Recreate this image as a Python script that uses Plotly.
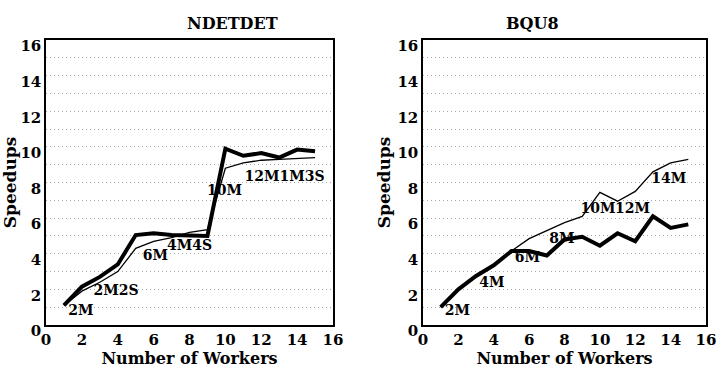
import plotly.graph_objects as go

workers = list(range(1, 16))

# NDETDET
nd_thick = [1.1, 2.15, 2.7, 3.4, 5.05, 5.15, 5.05, 5.05, 5.0, 9.9, 9.5, 9.65, 9.4, 9.85, 9.75]
nd_thin = [1.1, 1.9, 2.4, 3.0, 4.3, 4.7, 4.9, 5.2, 5.35, 8.8, 9.1, 9.25, 9.3, 9.35, 9.4]
nd_lab_text = ["2M", "2M2S", "6M", "4M4S", "10M", "12M1M3S"]
nd_lab_x = [1.95, 3.9, 6.1, 8.0, 9.95, 13.3]
nd_lab_y = [0.75, 1.9, 3.85, 4.4, 7.5, 8.3]

# BQU8
bq_thick = [1.0, 2.0, 2.75, 3.35, 4.15, 4.15, 3.9, 4.8, 4.95, 4.45, 5.15, 4.7, 6.1, 5.45, 5.65]
bq_thin = [1.0, 2.0, 2.75, 3.35, 4.15, 4.85, 5.3, 5.75, 6.1, 7.45, 6.95, 7.5, 8.6, 9.1, 9.3]
bq_lab_text = ["2M", "4M", "6M", "8M", "10M", "12M", "14M"]
bq_lab_x = [1.95, 3.9, 5.9, 7.85, 9.9, 11.85, 13.9]
bq_lab_y = [0.75, 2.35, 3.75, 4.8, 6.5, 6.5, 8.15]

titles = ["NDETDET", "BQU8"]
x_ticks = [0, 2, 4, 6, 8, 10, 12, 14, 16]
y_grid = list(range(0, 17))
y_ticktext = [str(v) if v % 2 == 0 else "" for v in y_grid]

FONT = "DejaVu Serif"
INK = "black"
GRID = "#a8a8a8"

fig = go.Figure()

panels = [
    (nd_thick, nd_thin, nd_lab_text, nd_lab_x, nd_lab_y, "x", "y"),
    (bq_thick, bq_thin, bq_lab_text, bq_lab_x, bq_lab_y, "x2", "y2"),
]
for thick, thin, lt, lx, ly, xa, ya in panels:
    fig.add_trace(go.Scatter(x=workers, y=thin, mode="lines", xaxis=xa, yaxis=ya,
                             line=dict(color=INK, width=1.3), showlegend=False))
    fig.add_trace(go.Scatter(x=workers, y=thick, mode="lines", xaxis=xa, yaxis=ya,
                             line=dict(color=INK, width=4), showlegend=False))
    fig.add_trace(go.Scatter(x=lx, y=ly, mode="text", text=lt, xaxis=xa, yaxis=ya,
                             textfont=dict(family=FONT, size=14, color=INK, weight="bold"),
                             showlegend=False))

W, H = 718, 368
doms_x = [(46 / W, 333 / W), (423 / W, 706 / W)]
dom_y = (1 - 325 / H, 1 - 40 / H)

def xaxis(dom, anchor):
    return dict(domain=list(dom), anchor=anchor, range=[0, 16], tickvals=x_ticks,
                automargin=False, ticklabeloverflow="allow",
                showgrid=False, zeroline=False, showline=True, mirror=True,
                linecolor=INK, linewidth=1.5, ticks="",
                tickfont=dict(family=FONT, size=15, color=INK, weight="bold"),
                title=dict(text="Number of Workers", standoff=3,
                           font=dict(family=FONT, size=16, color=INK, weight="bold")))

def yaxis(anchor):
    return dict(domain=list(dom_y), anchor=anchor, range=[0, 16],
                tickmode="array", tickvals=y_grid, ticktext=y_ticktext,
                automargin=False, ticklabelstandoff=0, ticklabelshift=6,
                showgrid=True, gridcolor=GRID, griddash="1px,3px", gridwidth=1,
                zeroline=False, showline=True, mirror=True,
                linecolor=INK, linewidth=1.5, ticks="",
                tickfont=dict(family=FONT, size=15, color=INK, weight="bold"),
                title=dict(text="Speedups", standoff=2,
                           font=dict(family=FONT, size=17, color=INK, weight="bold")))

fig.update_layout(
    width=W, height=H, margin=dict(l=0, r=0, t=0, b=0, autoexpand=False),
    paper_bgcolor="white", plot_bgcolor="white",
    xaxis=xaxis(doms_x[0], "y"), yaxis=yaxis("x"),
    xaxis2=xaxis(doms_x[1], "y2"), yaxis2=yaxis("x2"),
    annotations=[
        dict(text=titles[0], x=185 / W, y=1 - 23 / H, xref="paper", yref="paper",
             yanchor="middle", showarrow=False,
             font=dict(family=FONT, size=16, color=INK, weight="bold")),
        dict(text=titles[1], x=561 / W, y=1 - 23 / H, xref="paper", yref="paper",
             yanchor="middle", showarrow=False,
             font=dict(family=FONT, size=16, color=INK, weight="bold")),
    ],
)

fig.write_html("out.html")
